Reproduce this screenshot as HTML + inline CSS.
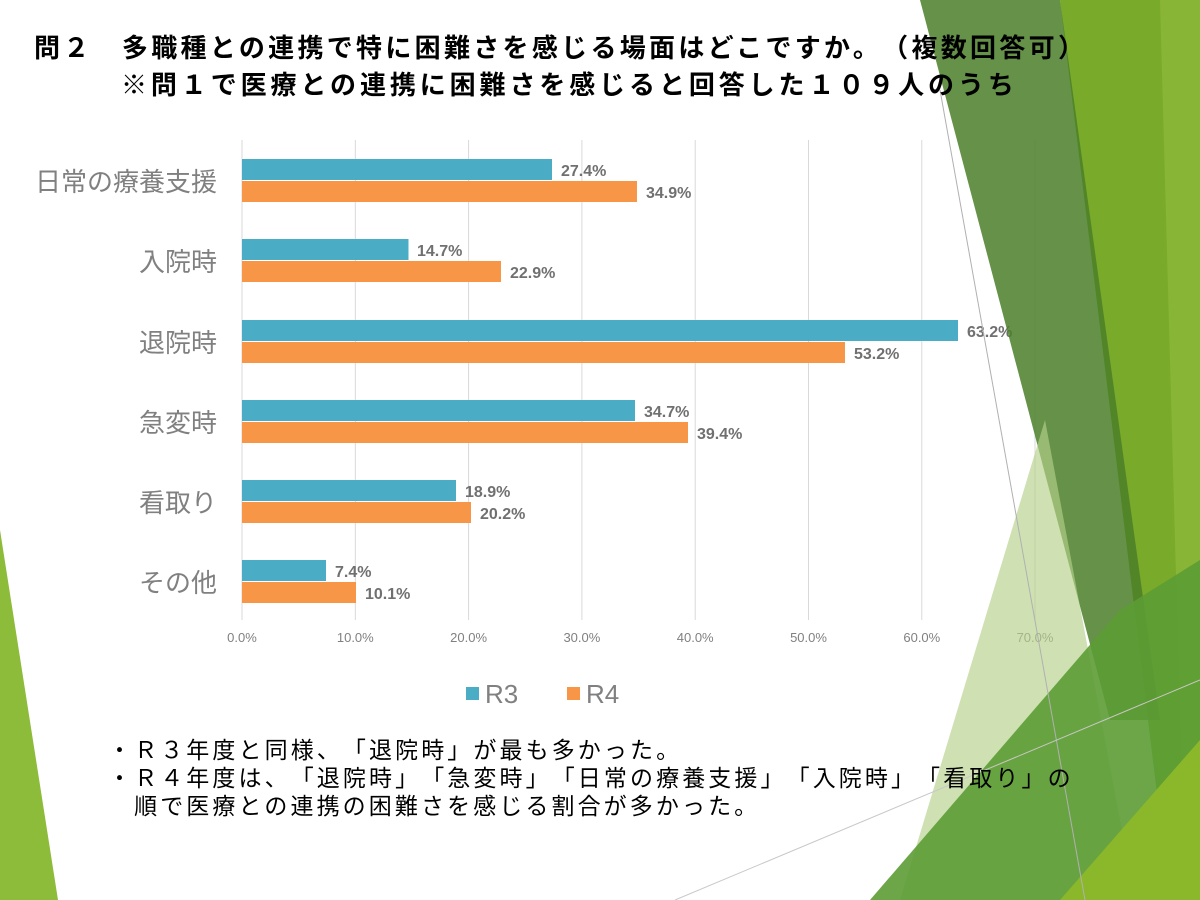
<!DOCTYPE html>
<html><head><meta charset="utf-8"><style>
body{margin:0;width:1200px;height:900px;overflow:hidden;background:#fff;position:relative;font-family:"Noto Sans CJK JP","Liberation Sans",sans-serif}
.t{position:absolute;white-space:nowrap;text-spacing-trim:space-all;font-feature-settings:normal}
</style></head><body>
<svg width="1200" height="900" style="position:absolute;left:0;top:0">
<polygon points="0,530 58,900 0,900" fill="#8dbb3a"/>
<g stroke="#d9d9d9" stroke-width="1">
<line x1="242" y1="140" x2="242" y2="620"/>
<line x1="355.3" y1="140" x2="355.3" y2="620"/>
<line x1="468.6" y1="140" x2="468.6" y2="620"/>
<line x1="581.9" y1="140" x2="581.9" y2="620"/>
<line x1="695.2" y1="140" x2="695.2" y2="620"/>
<line x1="808.5" y1="140" x2="808.5" y2="620"/>
<line x1="921.8" y1="140" x2="921.8" y2="620"/>
<line x1="1035" y1="140" x2="1035" y2="620"/>
</g>
<g fill="#4bacc6">
<rect x="242" y="159" width="310" height="21"/>
<rect x="242" y="239" width="166.5" height="21"/>
<rect x="242" y="320" width="716" height="21"/>
<rect x="242" y="400" width="393" height="21"/>
<rect x="242" y="480" width="214" height="21"/>
<rect x="242" y="560" width="84" height="21"/>
</g>
<g fill="#f79646">
<rect x="242" y="181" width="395" height="21"/>
<rect x="242" y="261" width="259" height="21"/>
<rect x="242" y="342" width="603" height="21"/>
<rect x="242" y="422" width="446" height="21"/>
<rect x="242" y="502" width="229" height="21"/>
<rect x="242" y="582" width="114" height="21"/>
</g>
<g font-family="Liberation Sans, sans-serif" font-size="16" font-weight="bold" fill="#707070">
<text x="561" y="176">27.4%</text><text x="646" y="198">34.9%</text>
<text x="417" y="256">14.7%</text><text x="510" y="278">22.9%</text>
<text x="967" y="337">63.2%</text><text x="854" y="359">53.2%</text>
<text x="644" y="417">34.7%</text><text x="697" y="439">39.4%</text>
<text x="465" y="497">18.9%</text><text x="480" y="519">20.2%</text>
<text x="335" y="577">7.4%</text><text x="365" y="599">10.1%</text>
</g>
<g font-family="Liberation Sans, sans-serif" font-size="13" fill="#808080" text-anchor="middle">
<text x="242" y="642">0.0%</text><text x="355.3" y="642">10.0%</text><text x="468.6" y="642">20.0%</text>
<text x="581.9" y="642">30.0%</text><text x="695.2" y="642">40.0%</text><text x="808.5" y="642">50.0%</text>
<text x="921.8" y="642">60.0%</text><text x="1035" y="642">70.0%</text>
</g>
<rect x="466" y="687" width="13" height="13" fill="#4bacc6"/>
<text x="485" y="703" font-family="Liberation Sans, sans-serif" font-size="26" fill="#808080">R3</text>
<rect x="567" y="687" width="13" height="13" fill="#f79646"/>
<text x="586" y="703" font-family="Liberation Sans, sans-serif" font-size="26" fill="#808080">R4</text>
<polygon points="1060,0 1200,0 1200,900 1170,900" fill="#7aaa2a"/>
<polygon points="1160,0 1200,0 1200,900 1185,900" fill="#8db83a" opacity="0.8"/>
<polygon points="920,0 1060,0 1160,720 1110,720" fill="#4a7f28" opacity="0.85"/>
<polygon points="900,900 1045,420 1135,900" fill="#b5d08a" opacity="0.65"/>
<polygon points="870,900 1120,610 1200,560 1200,900" fill="#5c9c34" opacity="0.9"/>
<polygon points="1060,900 1200,740 1200,900" fill="#8ab82a"/>
<line x1="940" y1="90" x2="1085" y2="900" stroke="#b0b0b0" stroke-width="1"/>
<line x1="675" y1="900" x2="1200" y2="680" stroke="#c8c8c8" stroke-width="1"/>
</svg>
<div class="t" style="left:34px;top:28px;font-size:26px;letter-spacing:3.3px;font-weight:bold;color:#000">問２　多職種との連携で特に困難さを感じる場面はどこですか。（複数回答可）</div>
<div class="t" style="left:121px;top:65px;font-size:26px;letter-spacing:3.9px;font-weight:bold;color:#000">※問１で医療との連携に困難さを感じると回答した１０９人のうち</div>
<div class="t" style="right:983px;top:162px;font-size:26px;color:#808080">日常の療養支援</div>
<div class="t" style="right:983px;top:242px;font-size:26px;color:#808080">入院時</div>
<div class="t" style="right:983px;top:323px;font-size:26px;color:#808080">退院時</div>
<div class="t" style="right:983px;top:403px;font-size:26px;color:#808080">急変時</div>
<div class="t" style="right:983px;top:483px;font-size:26px;color:#808080">看取り</div>
<div class="t" style="right:983px;top:563px;font-size:26px;color:#808080">その他</div>
<div class="t" style="left:108px;top:734px;font-size:23px;line-height:28px;letter-spacing:3.1px;color:#000">・Ｒ３年度と同様、「退院時」が最も多かった。<br>・Ｒ４年度は、「退院時」「急変時」「日常の療養支援」「入院時」「看取り」の<br>　順で医療との連携の困難さを感じる割合が多かった。</div>
</body></html>
